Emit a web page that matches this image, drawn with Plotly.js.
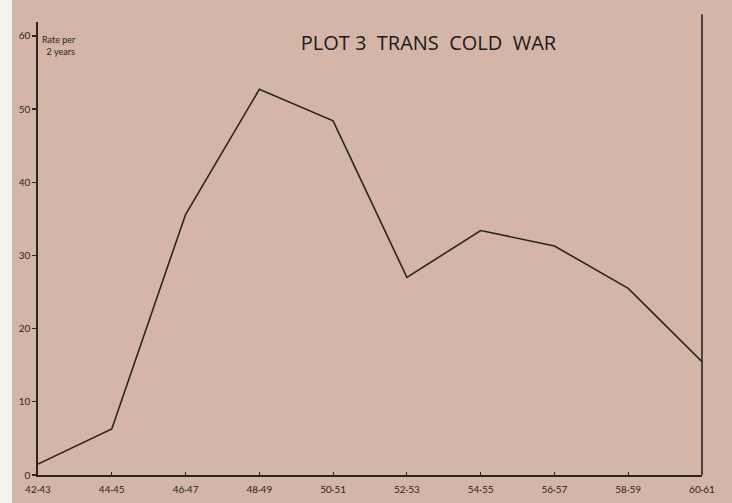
<!DOCTYPE html>
<html>
<head>
<meta charset="utf-8">
<script src="https://cdn.plot.ly/plotly-3.0.1.min.js"></script>
<style>
  html, body { margin: 0; padding: 0; background: #f4f1ef; }
  #chart { position: absolute; left: 12px; top: 0; width: 720px; height: 503px; }
</style>
</head>
<body>
<div id="chart"></div>
<script>
const periods = ["42·43", "44·45", "46·47", "48·49", "50·51", "52·53", "54·55", "56·57", "58·59", "60·61"];
const rates = [1.5, 6.3, 35.6, 52.7, 48.4, 27.0, 33.4, 31.3, 25.5, 15.5];
const yTicks = [0, 10, 20, 30, 40, 50, 60];

const bg = '#d4b6a9';
const ink = '#2b2522';

const trace = {
  x: periods,
  y: rates,
  type: 'scatter',
  mode: 'lines',
  line: { color: ink, width: 1.6 },
  hoverinfo: 'skip'
};

const layout = {
  width: 720,
  height: 503,
  paper_bgcolor: bg,
  plot_bgcolor: bg,
  margin: { l: 26, r: 30, t: 22, b: 28 },
  showlegend: false,
  font: { family: 'Lato, "Open Sans", sans-serif', color: ink },
  title: {
    text: 'PLOT 3&nbsp; TRANS&nbsp; COLD&nbsp; WAR',
    font: { family: '"Open Sans", Lato, sans-serif', size: 20, color: '#1e1a18' },
    x: 0.588, xanchor: 'center', xref: 'paper',
    y: 0.915, yanchor: 'middle', yref: 'container'
  },
  xaxis: {
    type: 'category',
    range: [0, periods.length - 1],
    showgrid: false,
    zeroline: false,
    showline: true,
    linecolor: ink,
    linewidth: 1.6,
    mirror: false,
    ticks: 'inside',
    ticklen: 3,
    tickcolor: ink,
    tickwidth: 1.2,
    ticklabelstandoff: 4,
    tickfont: { size: 10, color: ink },
    fixedrange: true
  },
  yaxis: {
    range: [0, 61.9],
    tickvals: yTicks,
    ticktext: yTicks.map(String),
    showgrid: false,
    zeroline: false,
    showline: true,
    linecolor: ink,
    linewidth: 1.6,
    ticks: 'outside',
    ticklen: 4,
    tickcolor: ink,
    tickwidth: 1.2,
    tickfont: { size: 10, color: ink },
    fixedrange: true
  },
  shapes: [{
    type: 'line', xref: 'paper', yref: 'paper',
    x0: 1, x1: 1, y0: 0, y1: 1.017,
    line: { color: ink, width: 1.6 }
  }],
  annotations: [{
    text: 'Rate per<br>  2 years',
    xref: 'paper', yref: 'paper',
    x: 0.003, y: 0.978, xanchor: 'left', yanchor: 'top',
    align: 'left', showarrow: false,
    font: { size: 9, color: ink }
  }]
};

Plotly.newPlot('chart', [trace], layout, { displayModeBar: false, staticPlot: true });
</script>
</body>
</html>
